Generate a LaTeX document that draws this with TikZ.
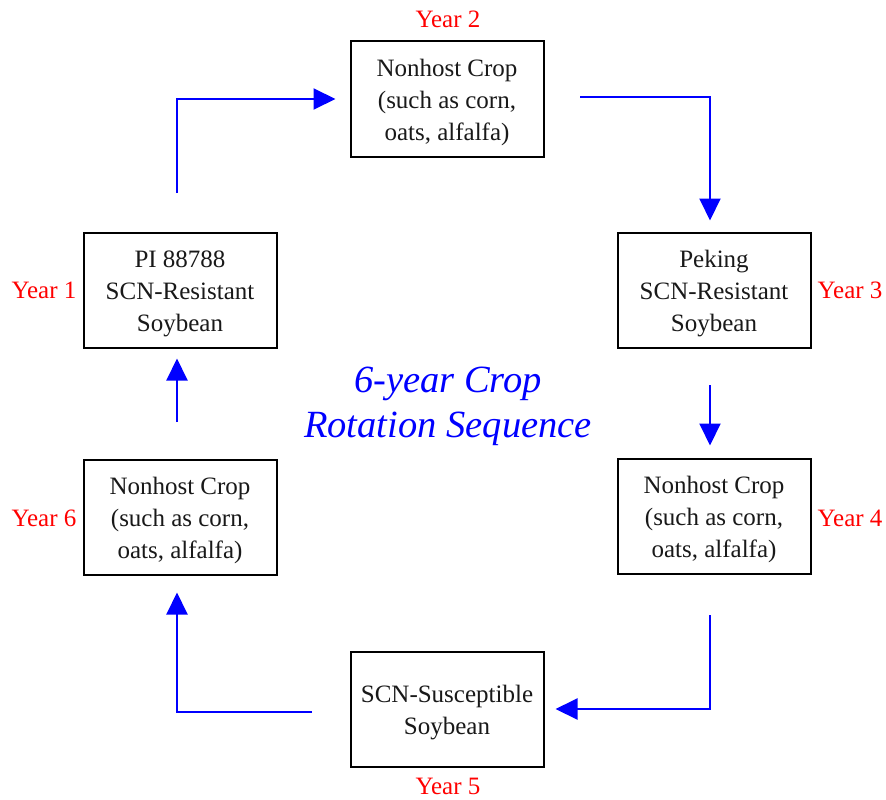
\documentclass[tikz,border=0pt]{standalone}
\usepackage{fontspec}
\setmainfont{Liberation Serif}
\usetikzlibrary{arrows.meta}
\begin{document}
\begin{tikzpicture}[x=1pt,y=-1pt,
  crop/.style={draw=black,line width=2pt,minimum width=193pt,minimum height=115pt,
    align=center,font=\fontsize{25}{32}\selectfont,text=black!90,inner sep=2pt},
  yearlbl/.style={text=red,font=\fontsize{25}{28}\selectfont,inner sep=0pt,anchor=base},
  arr/.style={draw=blue,line width=2pt,-{Triangle[length=22pt,width=21pt]}}]
\useasboundingbox[fill=white] (0,0) rectangle (886,800);
\newcommand{\dn}{\rule{0pt}{24pt}}
\node[crop] (b2) at (447,99) {\dn Nonhost Crop\\(such as corn,\\oats, alfalfa)};
\node[crop] (b1) at (180,290) {\dn PI 88788\\SCN-Resistant\\Soybean};
\node[crop] (b3) at (714,290) {\dn Peking\\SCN-Resistant\\Soybean};
\node[crop] (b6) at (180,517) {\dn Nonhost Crop\\(such as corn,\\oats, alfalfa)};
\node[crop] (b4) at (714,516) {\dn Nonhost Crop\\(such as corn,\\oats, alfalfa)};
\node[crop] (b5) at (447,709) {\dn SCN-Susceptible\\Soybean};
\node[yearlbl] (y2) at (448,28) {Year 2};
\node[yearlbl] (y1) at (44,298) {Year 1};
\node[yearlbl] (y3) at (850,298) {Year 3};
\node[yearlbl] (y6) at (44,526) {Year 6};
\node[yearlbl] (y4) at (850,526) {Year 4};
\node[yearlbl] (y5) at (448,794) {Year 5};
\node[text=blue,align=center,font=\fontsize{38.5}{45}\selectfont\itshape] (title) at (448,406)
  {6-year Crop\\Rotation Sequence};
\coordinate (c1) at (177,193);
\coordinate (c2) at (580,97);
\coordinate (c3) at (710,385);
\coordinate (c4) at (710,615);
\coordinate (c5) at (312,712);
\coordinate (c6) at (177,422);
\draw[arr,shorten >=14pt] (c1) |- (b2.west);
\draw[arr,shorten >=11pt] (c2) -| ([xshift=-4pt]b3.north);
\draw[arr,shorten >=12pt] (c3) -- (c3 |- b4.north);
\draw[arr,shorten >=11pt] (c4) |- (b5.east);
\draw[arr,shorten >=17pt] (c5) -| ([xshift=-3pt]b6.south);
\draw[arr,shorten >=10pt] (c6) -- (c6 |- b1.south);
\end{tikzpicture}
\end{document}
